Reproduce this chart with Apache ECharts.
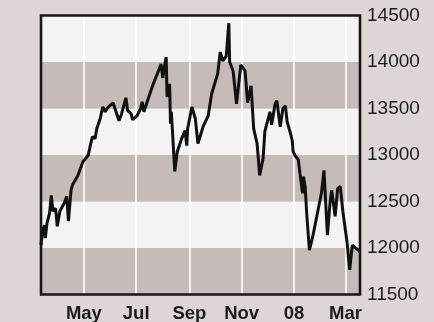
<!DOCTYPE html>
<html>
<head>
<meta charset="utf-8">
<script src="https://cdn.jsdelivr.net/npm/echarts@6/dist/echarts.min.js"></script>
<style>
  html, body { margin: 0; padding: 0; background: #ddd6d4; }
  #chart { width: 434px; height: 322px; }
</style>
</head>
<body>
<div id="chart"></div>
<script>
// index level, daily closes (Mar 2007 - Mar 2008)
var dates = [
  '2007-03-12', '2007-03-14', '2007-03-16', '2007-03-17', '2007-03-19', '2007-03-22',
  '2007-03-24', '2007-03-26', '2007-03-29', '2007-03-31', '2007-04-03', '2007-04-08',
  '2007-04-11', '2007-04-13', '2007-04-16', '2007-04-18', '2007-04-24', '2007-04-30',
  '2007-05-06', '2007-05-09', '2007-05-11', '2007-05-14', '2007-05-16', '2007-05-20',
  '2007-05-23', '2007-05-26', '2007-05-28', '2007-05-31', '2007-06-04', '2007-06-06',
  '2007-06-11', '2007-06-14', '2007-06-19', '2007-06-21', '2007-06-25', '2007-06-27',
  '2007-07-02', '2007-07-06', '2007-07-08', '2007-07-10', '2007-07-15', '2007-07-21',
  '2007-07-27', '2007-07-30', '2007-08-01', '2007-08-04', '2007-08-05', '2007-08-06',
  '2007-08-08', '2007-08-09', '2007-08-10', '2007-08-11', '2007-08-15', '2007-08-18',
  '2007-08-23', '2007-08-27', '2007-08-29', '2007-08-30', '2007-09-04', '2007-09-08',
  '2007-09-11', '2007-09-17', '2007-09-23', '2007-09-27', '2007-10-04', '2007-10-07',
  '2007-10-10', '2007-10-14', '2007-10-17', '2007-10-18', '2007-10-22', '2007-10-26',
  '2007-10-31', '2007-11-05', '2007-11-08', '2007-11-12', '2007-11-15', '2007-11-19',
  '2007-11-22', '2007-11-26', '2007-11-28', '2007-12-04', '2007-12-06', '2007-12-10',
  '2007-12-12', '2007-12-13', '2007-12-16', '2007-12-19', '2007-12-22', '2007-12-24',
  '2007-12-28', '2007-12-30', '2007-12-31', '2008-01-03', '2008-01-06', '2008-01-08',
  '2008-01-11', '2008-01-12', '2008-01-14', '2008-01-16', '2008-01-19', '2008-01-23',
  '2008-01-29', '2008-02-02', '2008-02-05', '2008-02-09', '2008-02-12', '2008-02-14',
  '2008-02-18', '2008-02-21', '2008-02-24', '2008-02-27', '2008-03-03', '2008-03-06',
  '2008-03-09', '2008-03-13', '2008-03-16', '2008-03-18'
];
var closes = [
  12031, 12192, 12245, 12106, 12267, 12374,
  12566, 12395, 12427, 12234, 12395, 12481,
  12555, 12288, 12620, 12684, 12780, 12930,
  12994, 13123, 13197, 13176, 13283, 13390,
  13518, 13465, 13497, 13529, 13561, 13572,
  13369, 13444, 13615, 13476, 13444, 13379,
  13422, 13497, 13572, 13465, 13604, 13765,
  13904, 13979, 13829, 14011, 14054, 13625,
  13711, 13765, 13337, 13465, 12823, 13037,
  13176, 13262, 13101, 13283, 13518, 13390,
  13123, 13304, 13422, 13658, 13872, 14107,
  14011, 14064, 14417, 14000, 13904, 13551,
  13968, 13904, 13561, 13743, 13283, 13123,
  12780, 12962, 13251, 13465, 13326, 13551,
  13583, 13518, 13304, 13497, 13529, 13358,
  13230, 13155, 13037, 12983, 12951, 12802,
  12588, 12769, 12662, 12352, 11978, 12127,
  12406, 12588, 12834, 12138, 12481, 12620,
  12341, 12641, 12662, 12395, 12053, 11764,
  12031, 11999, 11978, 11956
];

var xMin = '2007-03-12';
var xMax = '2008-03-18';
var monthTicks = ['2007-05-01', '2007-07-01', '2007-09-01', '2007-11-01', '2008-01-01', '2008-03-01'];
var monthLabels = ['May', 'Jul', 'Sep', 'Nov', '08', 'Mar'];
var yMin = 11500;
var yMax = 14500;
var yStep = 500;

// timestamp for 'YYYY-MM-DD'
function toTs(s) {
  var p = s.split('-');
  return new Date(+p[0], +p[1] - 1, +p[2]).getTime();
}
var tickTimes = monthTicks.map(toTs);
var seriesData = dates.map(function (d, i) { return [toTs(d), closes[i]]; });

var font = '"Liberation Sans Narrow", "Liberation Sans", Arial, sans-serif';

var option = {
  backgroundColor: '#ddd6d4',
  animation: false,
  grid: {
    left: 41,
    top: 15.5,
    width: 319,
    height: 279,
    show: true,
    z: 5,
    backgroundColor: 'transparent',
    borderColor: '#161616',
    borderWidth: 2.6,
    outerBoundsMode: 'none'
  },
  xAxis: {
    type: 'value',
    min: toTs(xMin),
    max: toTs(xMax),
    axisLine: { show: false },
    axisTick: { show: false, customValues: tickTimes },
    splitLine: {
      show: true,
      lineStyle: { color: '#ffffff', width: 1.6 }
    },
    axisLabel: {
      customValues: tickTimes,
      margin: 10,
      color: '#1b1b1b',
      fontFamily: font,
      fontWeight: 'bold',
      fontSize: 18.5,
      formatter: function (val) {
        var i = tickTimes.indexOf(val);
        return i >= 0 ? monthLabels[i] : '';
      }
    }
  },
  yAxis: {
    type: 'value',
    position: 'right',
    min: yMin,
    max: yMax,
    interval: yStep,
    axisLine: { show: false },
    axisTick: { show: false },
    splitLine: { show: false },
    splitArea: {
      show: true,
      areaStyle: { color: ['#c5bcb9', '#f4f2f3'] }
    },
    axisLabel: {
      margin: 7,
      color: '#1b1b1b',
      fontFamily: font,
      fontSize: 19,
      formatter: function (val) { return String(val); }
    }
  },
  series: [
    {
      type: 'line',
      data: seriesData,
      showSymbol: false,
      symbol: 'none',
      lineStyle: { color: '#111111', width: 3 },
      z: 3
    }
  ]
};

var myChart = echarts.init(document.getElementById('chart'), null, { renderer: 'canvas' });
myChart.setOption(option);
</script>
</body>
</html>
